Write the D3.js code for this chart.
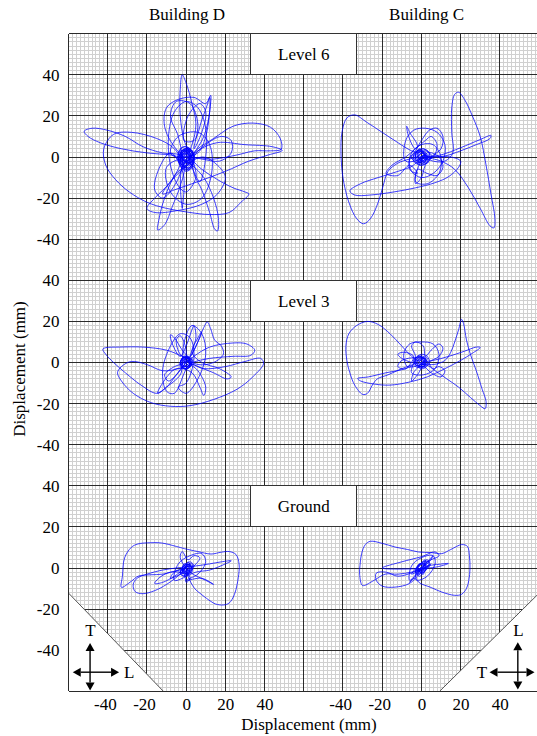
<!DOCTYPE html>
<html>
<head>
<meta charset="utf-8">
<script src="https://cdn.jsdelivr.net/npm/d3@7"></script>
<style>
  html, body { margin: 0; padding: 0; background: #fff; }
  svg { display: block; }
  svg text { font-family: "Liberation Serif", "Times New Roman", serif; fill: #000; }
</style>
</head>
<body>
<svg id="chart" width="537" height="736"></svg>
<script>
// ---- data (displacement orbits in mm: [x, y]) ----
const buildings = ["Building D", "Building C"];
const levels = ["Level 6", "Level 3", "Ground"];
const tickValues = [-40, -20, 0, 20, 40];

const orbitD6 = [
  [0,0],[1,3],[-2,2],[-1,-2],[2,-1],[3,3],[-1,5],[-4,2],[-3,-4],[0,-7],[3,-5],[4,0],[2,4],[-1,3],[-3,0],[-2,-4],[1,-5],[3,-1],[1,2],[-2,1],[-1,-1],[1,-3],[2,2],[-3,3],[-4,-2],[-1,-6],[2,-6],[4,-2],[3,3],[0,5],[-3,4],[-2,0],[0,-3],[2,-2],[1,1],[-1,1],
  [2,3],[-1,4],[-3,1],[-2,-3],[1,-6],[3,-3],[4,1],[1,4],[-2,3],[-4,-1],[-1,-5],[2,-5],[4,-1],[2,3],[-1,2],[-3,-2],[0,-6],[3,-4],[3,2],[0,4],[-3,2],[-3,-3],[1,-4],[2,0],[0,2],[-2,0],[-1,-3],[1,-2],[2,1],
  [-1,8],[-3,20],[-3,33],[-2,40],[0,36],[3,26],[5,16],[3,6],[0,0],
  [-6,5],[-11,15],[-10,24],[-4,28],[4,29],[10,26],[12.5,30],[12,22],[10,10],[6,2],
  [-2,0],[-8,1],[-20,2],[-33,4],[-44,7],[-50,10],[-52,12.5],[-48,14],[-40,13],[-31,10],[-22,5],[-12,2],[-3,1],
  [2,-3],[4,2],[0,4],[-3,1],[-1,-3],
  [6,4],[14,9],[24,15],[34,16.5],[43,14.5],[48,9],[48.5,3.8],[43,3],[35,3],[26,1],[14,-1],[4,-1],
  [4,-8],[8,-16],[12,-27],[14.5,-35],[16,-36],[16.5,-30],[14,-20],[9,-10],[3,-4],
  [-2,-1],[1,2],[3,-2],
  [-5,-8],[-11,-20],[-14,-31],[-14.5,-35.5],[-11,-33],[-7,-24],[-3,-14],[-1,-5],
  [-6,4],[-15,9],[-28,12],[-37,11],[-42,4],[-41,-4],[-36,-11],[-29,-17],[-20,-22],[-10,-25],[2,-27],[12,-28],[22,-27],[28,-22],[32,-18],[30,-17],[24,-15],[16,-11],[8,-6],[2,-1],
  [7,-12],[10,0],[10,14],[6,24],[0,27],[-6,22],[-9,10],[-8,-4],[-4,-14],[0,-17],[5,-10],[4,0],
  [10,6],[18,10],[23,8],[23,2],[17,-2],[8,-1],[1,0],
  [-10,-5],[-8,-17],[0,-23],[8,-20],[13,-8],[12,6],[6,12],[-4,10],[-8,2],[-3,-2],
  [-8,-12],[-16,-20],[-20,-25],[-16,-27],[-4,-26],[8,-23],[16,-18],[20,-10],[16,-4],[8,0],
  [-4,-8],[-12,-18],[-6,-16],[6,-12],[20,-7],[32,-2],[42,1],[49,3.2],[44,5],[30,6],[16,7],[6,3],
  [-2,-5],[-2,-25],[-1.5,-8],
  [-8,2],[-14,-6],[-16,-16],[-12,-20],[-6,-14],[-2,-4],
  [-4,10],[-8,20],[-5,27],[2,26],[6,16],[4,4],[8,12],[10,22],[7,26],[1,20],[-1,8],
  [4,8],[8,18],[11,26],[12,29],[12,22],[9,10],[4,2],
  [1,-1],[3,2],[0,3],[-2,0],[0,-2],[2,0],[-1,3],[-3,-1],[0,-4],[2,1],[-2,-5],[3,-1],[1,3],[-2,2],[-1,-2],[1,0]
];

const orbitC6 = [
  [0,0],[2,1],[-1,3],[-4,1],[-3,-2],[0,-4],[4,-2],[5,1],[2,3],[-2,2],[-3,-1],[1,-3],[3,0],[1,2],[-2,0],[0,-2],[3,-3],[4,2],[0,4],[-5,0],[-2,-3],[2,-1],[1,1],[-1,-1],
  [2,2],[-2,3],[-3,-1],[1,-3],[3,1],[0,3],[-2,0],[1,-2],[3,-1],[1,2],[-1,4],[-3,1],[-1,-2],[2,-1],[4,2],[1,4],[-3,2],[-4,-2],[0,-4],[3,-2],[2,1],
  [-5,3],[-12,7],[-20,12],[-28,17],[-34,20.5],[-38,19],[-40.5,12],[-41,2],[-40,-10],[-37,-22],[-33,-30],[-29.5,-32.5],[-26,-30],[-22,-22],[-19.5,-14],[-17,-7],[-12,-3],[-6,-1],[-1,0],
  [-4,-4],[-12,-7],[-22,-10],[-31,-13],[-36.5,-16.5],[-34,-18.5],[-26,-18.5],[-14,-17],[-3,-15],[7,-12.5],[14,-9.5],[19,-5],[20,-2],[15,0],[8,0],[2,0],
  [6,-2],[12,-2],[16,2],[15.5,12],[15.5,24],[17,30.5],[19,31.5],[22,28],[26,20],[30,10],[33,-4],[35.5,-18],[37.5,-30],[37,-34.5],[35,-33.5],[30,-25],[24,-15],[17,-6],[10,-2],[3,0],
  [10,1],[20,4.5],[30,8.5],[35.5,10.5],[35,9],[28,6],[20,3],[12,0.5],[4,0],
  [-8,-2],[-8,8],[-4,13],[2,14],[8,12],[12,6],[11,-2],[6,-8],[0,-10],[-5,-7],[-6,-1],
  [-2,5],[-6,12],[-7.5,15],[-6.5,10],[-3,4],[0,8],[4,13],[8,14],[11,10],[10,4],[5,0],[2,-4],[0,-10],[-3,-13],[-2,-6],[3,-8],[8,-9],[11,-5],[9,0],[3,2],
  [-3,-12],[3,-13],[9,-8],[10,0],[6,6],[0,6],[-5,2],[-6,-6],[-2,-8],
  [-6,-4],[-12,-9],[-18,-8],[-15,-4],[-8,0],[-3,4],[2,8],[5,10],[8,6],[6,0],
  [2,-1],[-1,1],[1,2],[2,0],[0,-1],[-2,2],[0,3],[2,-2],[-1,-1],[3,1],[-2,-3],[1,1]
];

const orbitD3 = [
  [0,0],[2,1],[-1,3],[-3,0],[-1,-3],[2,-2],[3,1],[0,2],[-2,-1],[1,-2],[2,2],[-2,2],[-3,-2],[0,-3],[3,-1],[1,1],[-1,0],
  [2,2],[-2,2],[-2,-2],[2,-1],[1,2],[-1,1],[0,-2],[3,1],[0,3],[-3,0],[-1,-3],[2,-2],[3,2],[-1,3],[-3,-1],[1,-3],[2,1],
  [-2,6],[-6,12],[-8,13.5],[-7,9],[-3,3],
  [0,8],[3,16],[4,18],[5,12],[2,3],
  [5,8],[9,17],[10.8,19.7],[12.5,16.5],[14.5,11],[18,8],[19,4],[14,0],[6,-1],
  [-2,3],[-10,6],[-22,7.5],[-34,7.5],[-41,7.2],[-42.5,6.5],[-41,4],[-37,0],[-31,-5],[-23,-11],[-15,-15],[-10,-12],[-5,-6],[-1,-1],
  [4,3],[12,7.5],[24,9.5],[31,9],[35,6],[33,3.5],[24,3],[12,2],[3,0],
  [-4,-3],[-12,-4],[-20,-1],[-28,0.5],[-33,-2],[-35,-5],[-33,-9],[-27,-15],[-18,-19.5],[-8,-21.3],[2,-21],[14,-18],[26,-13],[34,-7],[39.5,-0.5],[38,2],[30,0.5],[20,-2],[9,-3],[2,-1],
  [-6,-15],[-10,-14],[-12,-4],[-8,8],[-3,14],[2,12],[4,2],[0,-10],[-4,-12],
  [0,-15],[6,-8],[10,4],[8,14],[3,18],[-1,10],[-2,-2],
  [-3,-6],[-10,-12],[-14.5,-15],[-12,-10],[-5,-3],
  [3,-5],[7,-12],[9,-16],[10,-12],[6,-4],[1,0],
  [6,-2],[14,-5],[21,-8],[23,-7],[17,-3],[8,0],
  [3,5],[6,12],[8,15],[6,10],[1,2],
  [-3,4],[-5,11],[-3,13],[0,6],[-1,0],
  [-6,-2],[-11,-6],[-9,-9],[-4,-5],[0,0],
  [2,1],[-1,2],[-2,-1],[1,-2],[2,0],[0,1],[-2,2],[2,-2],[1,1]
];

const orbitC3 = [
  [0,0],[2,1],[-1,3],[-4,1],[-2,-2],[1,-3],[4,0],[3,3],[0,4],[-3,2],[-3,-1],[0,-2],[3,-1],[2,2],[-1,2],[-2,0],[1,-1],
  [2,2],[-2,2],[-2,-1],[1,-2],[3,0],[1,2],[-1,0],[2,-1],[0,3],[-3,1],[-1,-2],[3,2],[-2,3],[-3,-2],[2,-2],
  [-5,3],[-10,8],[-16,14],[-22,18.5],[-27.5,20],[-33,18],[-37,14],[-38.5,8],[-38,1],[-36.5,-5],[-34,-11],[-30,-15.5],[-27.5,-15],[-25,-11],[-22.5,-8],[-17,-6],[-10,-3],[-4,-1],
  [-8,-3],[-18,-5],[-27,-7],[-32.5,-7.8],[-31,-9],[-24,-10.5],[-16,-11],[-6,-9.5],[3,-7],[12,-3],[20,1],[26,4.5],[30,7.3],[28,7.5],[22,5.5],[14,3],[6,1],[0,0],
  [6,-1],[12,1],[15,5],[17,10],[19,16],[20.5,21],[21.5,19],[23,11],[25,4],[28,-4],[31,-13],[33,-19],[32.5,-22.5],[30,-21],[25,-17],[19,-12],[13,-8],[7,-4],[2,-1],
  [-7,-2],[-9,4],[-6,9],[0,10],[6,9],[9,4],[7,-3],[1,-6],[-5,-5],
  [-3,3],[-5,8],[-3,10],[1,8],[2,3],[5,6],[9,9],[11,7],[9,3],[4,0],[6,-3],[9,-2],[12,-4],[10,-7],[5,-5],[1,-2],[-2,-6],[-5,-9],[-4,-5],[-1,-1],[-5,0],[-10,2],[-12,4],[-9,5],[-4,3],[-8,-3],[-12,-2],[-10,1],
  [0,2],[2,-1],[-1,-2],[1,1],[-2,1],[2,2],[0,-1]
];

const orbitDG = [
  [0,0],[2,2],[-1,1],[-3,-2],[-1,-4],[2,-2],[4,1],[2,3],[-2,0],[-3,-3],[0,-4],[3,-1],[3,2],[0,1],[-2,-2],[1,-3],[2,0],
  [2,1],[-1,2],[-2,-1],[1,-2],[3,0],[0,2],[-2,0],[0,-3],[2,-1],[-1,-2],[1,3],[3,-2],[-3,-2],[2,2],[-1,-4],[3,1],
  [-4,-1],[-12,-3],[-18,-3.3],[-24.5,-4],[-28,-6.5],[-33,-9.4],[-32.5,-4],[-31.4,4.9],[-28,10],[-24.6,11.7],[-18,12.3],[-12.7,12.2],[-5,10.5],[-0.8,9.4],[6,8],[12.7,6.8],[18,7.7],[22,8],[25.5,6.5],[27,2],[27,-1.6],[26,-8],[24.6,-13],[22,-17],[19,-18],[15,-17.5],[12.7,-16.3],[8,-13],[4.2,-9.8],[1,-4],[0,0],
  [-3,-3],[-10,-8],[-16,-11],[-22,-12.5],[-26,-11.5],[-27,-8],[-25,-5],[-20,-3],[-12,-1],[-5,0],
  [5,1],[12,2],[18,3],[23,3.5],[20,2],[12,-1],[5,-2],
  [-6,-6],[-4,2],[2,6],[8,7],[10,3],[6,-3],[0,-6],
  [8,-5],[14,-8],[10,-6],[2,-2],
  [-3,5],[-2,8],[1,4],[4,6],[7,5],[4,1],[-5,-4],[-8,-5],[-6,-2],[-1,-1],[2,-5],[0,-7],[-1,-3],
  [-8,-2],[-14,-5],[-16,-7.5],[-12,-7],[-6,-4],
  [1,1],[-1,-1],[2,0],[0,1],[-2,-2],[1,2]
];

const orbitCG = [
  [0,0],[2,2],[-1,2],[-3,-1],[-2,-3],[1,-2],[4,1],[3,4],[0,2],[-3,-2],[-1,-4],[2,-1],[4,3],[1,3],[-2,0],[0,-2],[2,1],
  [2,1],[-1,2],[-2,-1],[1,-2],[3,1],[0,2],[-2,0],[1,-3],[2,2],[-3,-2],[-1,1],[3,3],[-2,-3],[2,0],
  [-5,-2],[-12,-3],[-18.5,-3],[-25,-6.5],[-30,-8.5],[-31.5,-3],[-31.3,1.3],[-30.5,7],[-28.5,11.5],[-26,13],[-20,12],[-13.4,10.2],[-7,9],[-1.5,7.8],[5,7.5],[10.4,7],[15,9],[20.6,11.4],[23.5,10.5],[24.5,6],[24.8,-0.3],[24.2,-6],[23,-10],[20.5,-12.8],[17,-13.3],[10.4,-11.7],[5,-9.5],[-1.5,-6.8],[-3,-3],[0,0],
  [-4,-2],[-12,-4],[-18,-2],[-23,-2.5],[-23,-6],[-20,-8.8],[-13.4,-9.3],[-6,-7.5],[-1,-3],
  [4,1],[9,1.8],[13.8,2.2],[10,1],[4,0],
  [-20,0],[-10,3],[0,5.5],[7,7.8],[9,6],[3,3],
  [-6,-6],[-5,1],[0,5],[6,6],[7,2],[3,-4],[-2,-6],
  [-4,-5],[-6,-7],[-3,-4],[4,4],[6,6],[4,3],[-2,-2],[5,2],[-5,-3],[2,4],[0,-2]
];

// [building index, level index, orbit]
const panels = [
  [0, 0, orbitD6], [1, 0, orbitC6],
  [0, 1, orbitD3], [1, 1, orbitC3],
  [0, 2, orbitDG], [1, 2, orbitCG]
];

// ---- layout ----
const plot = { left: 68.5, right: 539, top: 33.7, bottom: 691.3 };
// each building spans 120 mm on the shared sheet, each level 100 mm
const buildingOffset = [0, 120];
const levelOffset = [0, -100, -200];
const xAll = d3.scaleLinear().domain([-60, 180]).range([plot.left, plot.right]);
const yAll = d3.scaleLinear().domain([60, -260]).range([plot.top, plot.bottom]);
const xScales = buildingOffset.map(o => d3.scaleLinear().domain([-60 - o, 180 - o]).range([plot.left, plot.right]));
const yScales = levelOffset.map(o => d3.scaleLinear().domain([60 - o, -260 - o]).range([plot.top, plot.bottom]));

const svg = d3.select("#chart");
const FONT = 17;
const SERIF = '"Liberation Serif", "Times New Roman", serif';

// ---- graph-paper grid ----
const grid = svg.append("g").attr("shape-rendering", "crispEdges");
const xMinor = d3.range(-60, 181, 2).filter(v => v % 20 !== 0);
const yMinor = d3.range(-260, 61, 2).filter(v => v % 20 !== 0);
const xMajor = d3.range(-60, 181, 20);
const yMajor = d3.range(-260, 61, 20);

grid.selectAll(".vminor").data(xMinor).join("line")
  .attr("x1", d => xAll(d)).attr("x2", d => xAll(d))
  .attr("y1", plot.top).attr("y2", plot.bottom)
  .attr("stroke", "#d0d0d0").attr("stroke-width", 1);
grid.selectAll(".hminor").data(yMinor).join("line")
  .attr("y1", d => yAll(d)).attr("y2", d => yAll(d))
  .attr("x1", plot.left).attr("x2", plot.right)
  .attr("stroke", "#d0d0d0").attr("stroke-width", 1);
grid.selectAll(".vmajor").data(xMajor).join("line")
  .attr("x1", d => xAll(d)).attr("x2", d => xAll(d))
  .attr("y1", plot.top).attr("y2", plot.bottom)
  .attr("stroke", "#2a2a2a").attr("stroke-width", 1);
grid.selectAll(".hmajor").data(yMajor).join("line")
  .attr("y1", d => yAll(d)).attr("y2", d => yAll(d))
  .attr("x1", plot.left).attr("x2", plot.right)
  .attr("stroke", "#2a2a2a").attr("stroke-width", 1);

// ---- level label boxes (straddling the two buildings) ----
const boxTop = [60, 40, 40];
const boxBottom = [40, 20, 20];
const boxLeft = xScales[0](33), boxRight = xScales[1](-33);
levels.forEach((name, i) => {
  const y0 = yScales[i](boxTop[i]), y1 = yScales[i](boxBottom[i]);
  svg.append("rect")
    .attr("x", boxLeft).attr("y", y0)
    .attr("width", boxRight - boxLeft).attr("height", y1 - y0)
    .attr("fill", "#fff").attr("stroke", "#333").attr("stroke-width", 1)
    .attr("shape-rendering", "crispEdges");
  svg.append("text")
    .attr("x", (boxLeft + boxRight) / 2).attr("y", (y0 + y1) / 2)
    .attr("dy", "0.35em").attr("text-anchor", "middle")
    .attr("font-family", SERIF).attr("font-size", FONT).text(name);
});

// ---- corner panels for the direction keys ----
const yG = yScales[2];
const triLeft = [[xScales[0](-60), yG(-12.2)], [xScales[0](-60), yG(-60)], [xScales[0](-11.6), yG(-60)]];
const triRight = [[xScales[1](9.3), yG(-60)], [xScales[1](60), yG(-60)], [xScales[1](60), yG(-12.3)]];
[triLeft, triRight].forEach(t => {
  svg.append("polygon").attr("points", t.map(p => p.join(",")).join(" ")).attr("fill", "#fff");
});
svg.append("line").attr("x1", triLeft[0][0]).attr("y1", triLeft[0][1]).attr("x2", triLeft[2][0]).attr("y2", triLeft[2][1])
  .attr("stroke", "#555").attr("stroke-width", 1);
svg.append("line").attr("x1", triRight[0][0]).attr("y1", triRight[0][1]).attr("x2", triRight[2][0]).attr("y2", triRight[2][1])
  .attr("stroke", "#555").attr("stroke-width", 1);

// frame redrawn over the corner panels
const frame = svg.append("g").attr("shape-rendering", "crispEdges");
frame.append("line").attr("x1", plot.left).attr("x2", plot.left).attr("y1", plot.top).attr("y2", plot.bottom)
  .attr("stroke", "#2a2a2a");
frame.append("line").attr("x1", plot.left).attr("x2", plot.right).attr("y1", yAll(-260)).attr("y2", yAll(-260))
  .attr("stroke", "#2a2a2a");

// ---- orbits ----
const orbitLayer = svg.append("g");
panels.forEach(([b, l, orbit]) => {
  const line = d3.line()
    .x(d => xScales[b](d[0]))
    .y(d => yScales[l](d[1]))
    .curve(d3.curveCatmullRom.alpha(0.5));
  orbitLayer.append("path")
    .datum(orbit)
    .attr("d", line)
    .attr("fill", "none")
    .attr("stroke", "#0000ff")
    .attr("stroke-opacity", 0.75)
    .attr("stroke-width", 1)
    .attr("stroke-linejoin", "round");
});

// ---- axes ----
const fmt = d => String(d);
yScales.forEach(ys => {
  const g = svg.append("g").attr("transform", `translate(${plot.left},0)`)
    .call(d3.axisLeft(ys).tickValues(tickValues).tickSize(0).tickPadding(9).tickFormat(fmt));
  g.attr("font-family", SERIF).attr("font-size", FONT);
  g.select(".domain").remove();
  g.selectAll("text").attr("font-family", SERIF).attr("font-size", FONT).attr("fill", "#000");
});
xScales.forEach(xs => {
  const g = svg.append("g").attr("transform", `translate(0,${plot.bottom})`)
    .call(d3.axisBottom(xs).tickValues(tickValues).tickSize(0).tickPadding(6.5).tickFormat(fmt));
  g.attr("font-family", SERIF).attr("font-size", FONT);
  g.select(".domain").remove();
  g.selectAll("text").attr("font-family", SERIF).attr("font-size", FONT).attr("fill", "#000")
    .attr("dx", d => d < 0 ? "-0.17em" : null);
});

// ---- titles ----
const titleX = [0.4, 2.7];
buildings.forEach((name, i) => {
  svg.append("text").attr("x", xScales[i](titleX[i])).attr("y", 19.5)
    .attr("text-anchor", "middle").attr("font-family", SERIF).attr("font-size", FONT).text(name);
});
svg.append("text").attr("x", 309).attr("y", 730).attr("text-anchor", "middle")
  .attr("font-family", SERIF).attr("font-size", FONT).text("Displacement (mm)");
svg.append("text").attr("transform", "translate(25,369) rotate(-90)")
  .attr("text-anchor", "middle").attr("font-family", SERIF).attr("font-size", FONT).text("Displacement (mm)");

// ---- direction keys (T = transverse, L = longitudinal) ----
function compass(cx, cy, up, down, left, right) {
  const g = svg.append("g");
  const head = 8, half = 4.5;
  g.append("line").attr("x1", cx).attr("x2", cx).attr("y1", cy - up + head).attr("y2", cy + down - head)
    .attr("stroke", "#000").attr("stroke-width", 1.4);
  g.append("line").attr("y1", cy).attr("y2", cy).attr("x1", cx - left + head).attr("x2", cx + right - head)
    .attr("stroke", "#000").attr("stroke-width", 1.4);
  const heads = [
    [[cx, cy - up], [cx - half, cy - up + head], [cx + half, cy - up + head]],
    [[cx, cy + down], [cx - half, cy + down - head], [cx + half, cy + down - head]],
    [[cx - left, cy], [cx - left + head, cy - half], [cx - left + head, cy + half]],
    [[cx + right, cy], [cx + right - head, cy - half], [cx + right - head, cy + half]]
  ];
  heads.forEach(h => g.append("polygon").attr("points", h.map(p => p.join(",")).join(" ")).attr("fill", "#000"));
}
function keyLabel(x, y, anchor, s) {
  svg.append("text").attr("x", x).attr("y", y).attr("text-anchor", anchor)
    .attr("font-family", SERIF).attr("font-size", FONT).text(s);
}
const kL = [xScales[0](-49), yG(-50.7)];
compass(kL[0], kL[1], 29.3, 18.3, 17.3, 29);
keyLabel(kL[0] + 0.5, kL[1] - 36, "middle", "T");
keyLabel(kL[0] + 34, kL[1] + 5.7, "start", "L");

const kR = [xScales[1](49.2), yG(-50.7)];
compass(kR[0], kR[1], 30, 17.3, 28.3, 16.7);
keyLabel(kR[0] + 0.7, kR[1] - 36, "middle", "L");
keyLabel(kR[0] - 36, kR[1] + 5.7, "middle", "T");
</script>
</body>
</html>
